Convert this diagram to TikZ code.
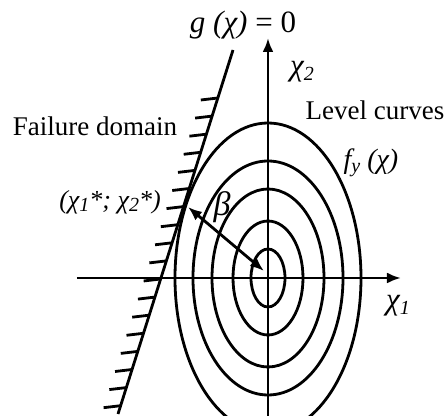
\documentclass[tikz,border=0pt]{standalone}
\usepackage{fontspec}
\setmainfont{Liberation Serif}
\usetikzlibrary{arrows.meta, positioning, calc}

\newcommand{\sub}[1]{\raisebox{-0.3ex}{\fontsize{10}{12}\selectfont #1}}

\begin{document}
\begin{tikzpicture}[x=0.5pt, y=-0.5pt, line width=1.4pt,
    every node/.style={font=\fontsize{13.5}{16}\selectfont, inner sep=1pt},
    sym/.style={font=\fontsize{15.5}{18}\selectfont\itshape},
    tip/.style={-{Latex[length=7pt,width=5.5pt]}},
    tips/.style={{Latex[length=7pt,width=5.5pt]}-{Latex[length=7pt,width=5.5pt]}}]
    \useasboundingbox (0,0) rectangle (446,416);

    % Level curves
    \begin{scope}
        \clip (0,0) rectangle (446,416);
        \foreach \a/\b in {17/29, 35/57, 56/89, 75/117, 93/155}
            \draw (268,278) ellipse [x radius=\a, y radius=\b];
    \end{scope}

    % Axes
    \coordinate (o) at (268,278);
    \coordinate (xa) at (77,278);
    \coordinate (xb) at (401,278);
    \coordinate (ya) at (268,416);
    \coordinate (yb) at (268,38);
    \draw[tip] (xa) -- (xb);
    \draw[tip] (ya) -- (yb);

    % Limit state
    \coordinate (ga) at (233,50);
    \coordinate (gb) at (118,414);
    \draw (ga) -- (gb);
    \foreach \i in {0,...,17} {
        \pgfmathsetmacro{\t}{(98+18.1*\i-50)/364}
        \draw ($(ga)!\t!(gb)$) -- ++(-17,2);
    }

    % Design point
    \coordinate (p) at (188,207);
    \coordinate (c) at (264,271);
    \draw[tips] (p) -- (c);

    % Labels
    \node[sym] (glabel) at (243,25) {g (χ) \upshape= 0};
    \node[sym] (xtwo) at (302,72) {χ\sub{2}};
    \node (level) at (375,110) {Level curves};
    \node (fail) at (95,126) {Failure domain};
    \node[sym, font=\fontsize{14}{16}\selectfont\itshape] (fy) at (371,163) {f\sub{y} (χ)};
    \node[sym, font=\fontsize{13}{16}\selectfont\itshape] (point) at (110,202) {(χ\sub{1}*; χ\sub{2}*)};
    \node[sym, font=\fontsize{17}{18}\selectfont\itshape] (beta) at (222,207) {β};
    \node[sym] (xone) at (398,306) {χ\sub{1}};
\end{tikzpicture}
\end{document}
